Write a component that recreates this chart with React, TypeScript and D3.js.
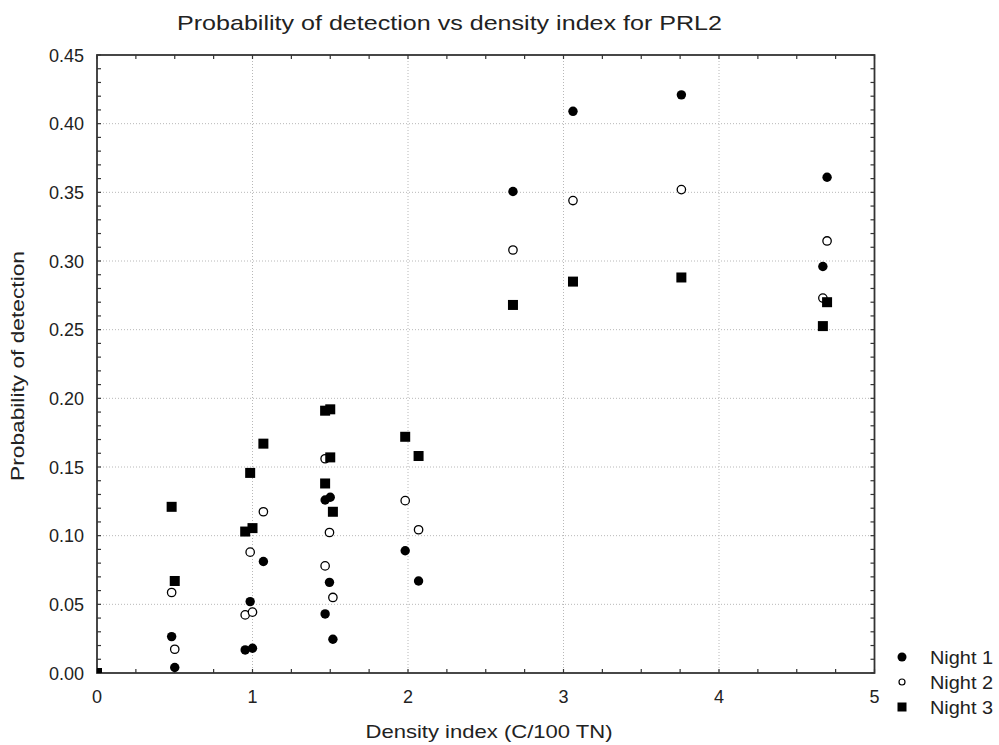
import React from "react";
import * as d3 from "d3";

const title = "Probability of detection vs density index for PRL2";
const xLabel = "Density index (C/100 TN)";
const yLabel = "Probability of detection";
const seriesNames = ["Night 1", "Night 2", "Night 3"];

const xTicks = [0, 1, 2, 3, 4, 5];
const yTicks = [0, 0.05, 0.1, 0.15, 0.2, 0.25, 0.3, 0.35, 0.4, 0.45];

const night1X = [0, 0.48, 0.5, 0.953, 0.985, 1.0, 1.07, 1.467, 1.5, 1.495, 1.467, 1.517, 1.982, 2.068, 2.675, 3.061, 3.758, 4.695, 4.668];
const night1Y = [0, 0.0265, 0.004, 0.0168, 0.052, 0.018, 0.0812, 0.126, 0.128, 0.066, 0.043, 0.0246, 0.089, 0.067, 0.3506, 0.409, 0.421, 0.361, 0.296];

const night2X = [0, 0.48, 0.5, 0.953, 0.985, 1.0, 1.07, 1.467, 1.495, 1.467, 1.517, 1.982, 2.068, 2.675, 3.061, 3.758, 4.695, 4.668];
const night2Y = [0, 0.0586, 0.0173, 0.0423, 0.088, 0.0443, 0.1174, 0.156, 0.1023, 0.078, 0.055, 0.1255, 0.1043, 0.308, 0.344, 0.352, 0.3146, 0.273];

const night3X = [0, 0.48, 0.5, 0.953, 0.985, 1.0, 1.07, 1.467, 1.5, 1.5, 1.467, 1.517, 1.982, 2.068, 2.675, 3.061, 3.758, 4.695, 4.668];
const night3Y = [0, 0.121, 0.067, 0.103, 0.1457, 0.1055, 0.167, 0.191, 0.192, 0.157, 0.138, 0.1174, 0.172, 0.158, 0.268, 0.285, 0.288, 0.27, 0.2526];

const W = 999;
const H = 745;
const L = 97, R = 874.5, T = 55, B = 673;
const FONT = "'Liberation Sans', Arial, sans-serif";

export default function App() {
  const x = d3.scaleLinear().domain([0, 5]).range([L, R]);
  const y = d3.scaleLinear().domain([0, 0.45]).range([B, T]);

  const xMinor = d3.range(0, 5.0001, 0.25);
  const yMinor = d3.range(0, 0.45001, 0.01);

  const zip = (xs: number[], ys: number[]) => xs.map((v, i) => [v, ys[i]] as [number, number]);
  const n1 = zip(night1X, night1Y);
  const n2 = zip(night2X, night2Y);
  const n3 = zip(night3X, night3Y);

  const axisColor = "#333";
  const fmt = d3.format(".2f");

  return (
    <svg width={W} height={H} style={{ position: "absolute", left: 0, top: 0, background: "#fff" }} fontFamily={FONT}>
      <defs>
        <clipPath id="plotClip">
          <rect x={L} y={T} width={R - L} height={B - T} />
        </clipPath>
      </defs>
      <rect x={0} y={0} width={W} height={H} fill="#fff" />
      {/* gridlines */}
      {xTicks.slice(1, -1).map((t) => (
        <line key={"gx" + t} x1={x(t)} x2={x(t)} y1={T} y2={B} stroke="#b8b8b8" strokeWidth={1} strokeDasharray="1,2" />
      ))}
      {yTicks.slice(1, -1).map((t) => (
        <line key={"gy" + t} x1={L} x2={R} y1={y(t)} y2={y(t)} stroke="#b8b8b8" strokeWidth={1} strokeDasharray="1,2" />
      ))}
      {/* minor ticks */}
      {xMinor.map((t, i) => (
        <g key={"xm" + i}>
          <line x1={x(t)} x2={x(t)} y1={B} y2={B - 4} stroke={axisColor} strokeWidth={1.2} />
          <line x1={x(t)} x2={x(t)} y1={T} y2={T + 4} stroke={axisColor} strokeWidth={1.2} />
        </g>
      ))}
      {yMinor.map((t, i) => (
        <g key={"ym" + i}>
          <line x1={L} x2={L + 4} y1={y(t)} y2={y(t)} stroke={axisColor} strokeWidth={1.2} />
          <line x1={R} x2={R - 4} y1={y(t)} y2={y(t)} stroke={axisColor} strokeWidth={1.2} />
        </g>
      ))}
      {/* frame */}
      <rect x={L} y={T} width={R - L} height={B - T} fill="none" stroke={axisColor} strokeWidth={1.8} />
      {/* tick labels */}
      {xTicks.map((t) => (
        <text key={"xt" + t} x={x(t)} y={703} textAnchor="middle" fontSize={18} fill="#222">
          {t}
        </text>
      ))}
      {yTicks.map((t) => (
        <text key={"yt" + t} x={84} y={y(t) + 6.5} textAnchor="end" fontSize={18} fill="#222">
          {fmt(t)}
        </text>
      ))}
      {/* title and labels */}
      <text x={449.5} y={30} textAnchor="middle" fontSize={21} fill="#222" textLength={545} lengthAdjust="spacingAndGlyphs">
        {title}
      </text>
      <text x={489} y={738} textAnchor="middle" fontSize={19} fill="#222" textLength={247} lengthAdjust="spacingAndGlyphs">
        {xLabel}
      </text>
      <text transform={`translate(24,${(T + B) / 2 + 2}) rotate(-90)`} textAnchor="middle" fontSize={19} fill="#222" textLength={230} lengthAdjust="spacingAndGlyphs">
        {yLabel}
      </text>
      {/* points */}
      <g clipPath="url(#plotClip)">
        {n1.map(([a, b], i) => (
          <circle key={"n1" + i} cx={x(a)} cy={y(b)} r={4.7} fill="#000" />
        ))}
        {n2.map(([a, b], i) => (
          <circle key={"n2" + i} cx={x(a)} cy={y(b)} r={4.2} fill="#fff" stroke="#000" strokeWidth={1.3} />
        ))}
        {n3.map(([a, b], i) => (
          <rect key={"n3" + i} x={x(a) - 5} y={y(b) - 5} width={10} height={10} fill="#000" />
        ))}
      </g>
      {/* legend */}
      <g>
        <circle cx={902} cy={657} r={4.5} fill="#000" />
        <circle cx={902} cy={682} r={3} fill="#fff" stroke="#000" strokeWidth={1.2} />
        <rect x={897.5} y={702.5} width={9} height={9} fill="#000" />
        {seriesNames.map((s, i) => (
          <text key={s} x={930} y={663.5 + i * 25} fontSize={19} fill="#222" textLength={63} lengthAdjust="spacingAndGlyphs">
            {s}
          </text>
        ))}
      </g>
    </svg>
  );
}
